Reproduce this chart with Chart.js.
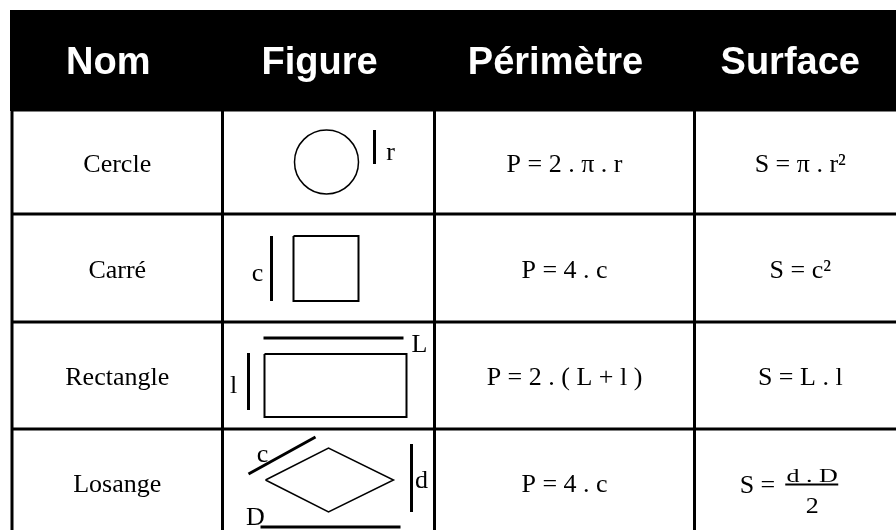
<!DOCTYPE html>
<html>
<head>
<meta charset="utf-8">
<script src="https://cdn.jsdelivr.net/npm/chart.js@4.4.1/dist/chart.umd.min.js"></script>
<style>
  html, body { margin: 0; padding: 0; background: #fff; }
  canvas { display: block; }
</style>
</head>
<body>
<canvas id="chart" width="896" height="530"></canvas>
<script>
// table content
const headers = ["Nom", "Figure", "Périmètre", "Surface"];
const names = ["Cercle", "Carré", "Rectangle", "Losange"];
const perimeters = ["P = 2 . π . r", "P = 4 . c", "P = 2 . ( L + l )", "P = 4 . c"];
const surfaces = ["S = π . r²", "S = c²", "S = L . l", ["d . D", "2"]]; // last one is a fraction

// table grid (scale units = px)
const colEdges = [12, 222.5, 434.5, 694.5, 904];
const rowEdges = [10, 110, 214, 322, 429, 536];

// figure sketches, offsets from the top-left corner of each Figure cell
const figures = [
  { // cercle
    circle: [104, 52, 32],
    outlines: [],
    bars: [[[152, 20], [152, 54]]],
    labels: [["r", 168, 50]]
  },
  { // carré
    outlines: [[[71, 22], [136, 22], [136, 87], [71, 87], [71, 22]]],
    bars: [[[49, 22], [49, 87]]],
    labels: [["c", 35, 67]]
  },
  { // rectangle
    outlines: [[[42, 32], [184, 32], [184, 95], [42, 95], [42, 32]]],
    bars: [[[41, 16], [181, 16]], [[26, 31], [26, 88]]],
    labels: [["L", 197, 30], ["l", 11, 71]]
  },
  { // losange
    outlines: [[[43, 51], [106, 19], [171, 51], [106, 83], [43, 51]]],
    bars: [[[26, 45], [93, 8]], [[189, 15], [189, 83]], [[38, 98], [178, 98]]],
    labels: [["c", 40, 33], ["d", 199, 59], ["D", 33, 96]]
  }
];

const datasets = [];
figures.forEach((f, i) => {
  const x0 = colEdges[1], y0 = rowEdges[i + 1];
  const toPts = pts => pts.map(([dx, dy]) => ({ x: x0 + dx, y: y0 + dy }));
  if (f.circle) {
    datasets.push({
      data: [{ x: x0 + f.circle[0], y: y0 + f.circle[1] }],
      pointRadius: f.circle[2],
      pointBorderWidth: 1.5,
      pointBorderColor: "#000",
      pointBackgroundColor: "rgba(0,0,0,0)",
      showLine: false
    });
  }
  for (const o of f.outlines) {
    datasets.push({
      data: toPts(o), showLine: true, borderColor: "#000",
      borderWidth: i === 3 ? 1.5 : 2, pointRadius: 0, tension: 0,
      borderJoinStyle: "miter"
    });
  }
  for (const b of f.bars) {
    datasets.push({
      data: toPts(b), showLine: true, borderColor: "#000",
      borderWidth: 3, pointRadius: 0, tension: 0
    });
  }
});

const tablePlugin = {
  id: "table",
  beforeDatasetsDraw(chart) {
    const { ctx, scales: { x, y } } = chart;
    const left = x.getPixelForValue(colEdges[0]);
    const right = x.getPixelForValue(colEdges[colEdges.length - 1]);
    const top = y.getPixelForValue(rowEdges[0]);
    const bottom = y.getPixelForValue(rowEdges[rowEdges.length - 1]);
    const headBottom = y.getPixelForValue(rowEdges[1]);
    ctx.save();
    ctx.fillStyle = "#000";
    ctx.fillRect(left - 2, top, right - left + 4, headBottom - top + 1);
    ctx.strokeStyle = "#000";
    ctx.lineWidth = 3;
    ctx.beginPath();
    for (let r = 1; r < rowEdges.length; r++) {
      const py = y.getPixelForValue(rowEdges[r]);
      ctx.moveTo(left - 1.5, py);
      ctx.lineTo(right + 1.5, py);
    }
    for (const c of colEdges) {
      const px = x.getPixelForValue(c);
      ctx.moveTo(px, headBottom);
      ctx.lineTo(px, bottom);
    }
    ctx.stroke();
    ctx.restore();
  },
  afterDatasetsDraw(chart) {
    const { ctx, scales: { x, y } } = chart;
    const cx = c => x.getPixelForValue((colEdges[c] + colEdges[c + 1]) / 2);
    const cy = r => y.getPixelForValue((rowEdges[r] + rowEdges[r + 1]) / 2);
    ctx.save();
    ctx.textAlign = "center";
    ctx.textBaseline = "alphabetic";

    // header
    ctx.fillStyle = "#fff";
    ctx.font = 'bold 38px "Liberation Sans", Arial, sans-serif';
    headers.forEach((h, c) => ctx.fillText(h, cx(c) - 9, cy(0) + 14));

    // body
    ctx.fillStyle = "#000";
    ctx.font = '26px "Liberation Serif", "Times New Roman", serif';
    names.forEach((n, r) => ctx.fillText(n, cx(0), cy(r + 1) + 9.5));
    perimeters.forEach((p, r) => ctx.fillText(p, cx(2), cy(r + 1) + 9.5));
    surfaces.forEach((s, r) => {
      const bx = cx(3), by = cy(r + 1) + 9.5;
      if (typeof s === "string") {
        ctx.fillText(s, bx + 1, by);
        return;
      }
      // fraction
      ctx.textAlign = "right";
      ctx.fillText("S =", bx - 24, by + 1);
      ctx.textAlign = "center";
      const fx = bx + 13;
      ctx.save();
      ctx.translate(fx, by - 10);
      ctx.scale(1, 0.72);
      ctx.fillText(s[0], 0, 0);
      ctx.restore();
      ctx.save();
      ctx.translate(fx, by + 20.5);
      ctx.scale(1, 0.9);
      ctx.fillText(s[1], 0, 0);
      ctx.restore();
      ctx.lineWidth = 2;
      ctx.beginPath();
      ctx.moveTo(fx - 27, by - 7.5);
      ctx.lineTo(fx + 26, by - 7.5);
      ctx.stroke();
    });

    // figure labels
    figures.forEach((f, i) => {
      for (const [t, dx, dy] of f.labels) {
        ctx.fillText(t, x.getPixelForValue(colEdges[1] + dx), y.getPixelForValue(rowEdges[i + 1] + dy));
      }
    });
    ctx.restore();
  }
};

new Chart(document.getElementById("chart"), {
  type: "scatter",
  data: { datasets },
  options: {
    responsive: false,
    animation: false,
    devicePixelRatio: 1,
    layout: { padding: 0, autoPadding: false },
    plugins: { legend: { display: false }, tooltip: { enabled: false } },
    scales: {
      x: { type: "linear", min: 0, max: 896, display: false },
      y: { type: "linear", min: 0, max: 530, reverse: true, display: false }
    }
  },
  plugins: [tablePlugin]
});
</script>
</body>
</html>
